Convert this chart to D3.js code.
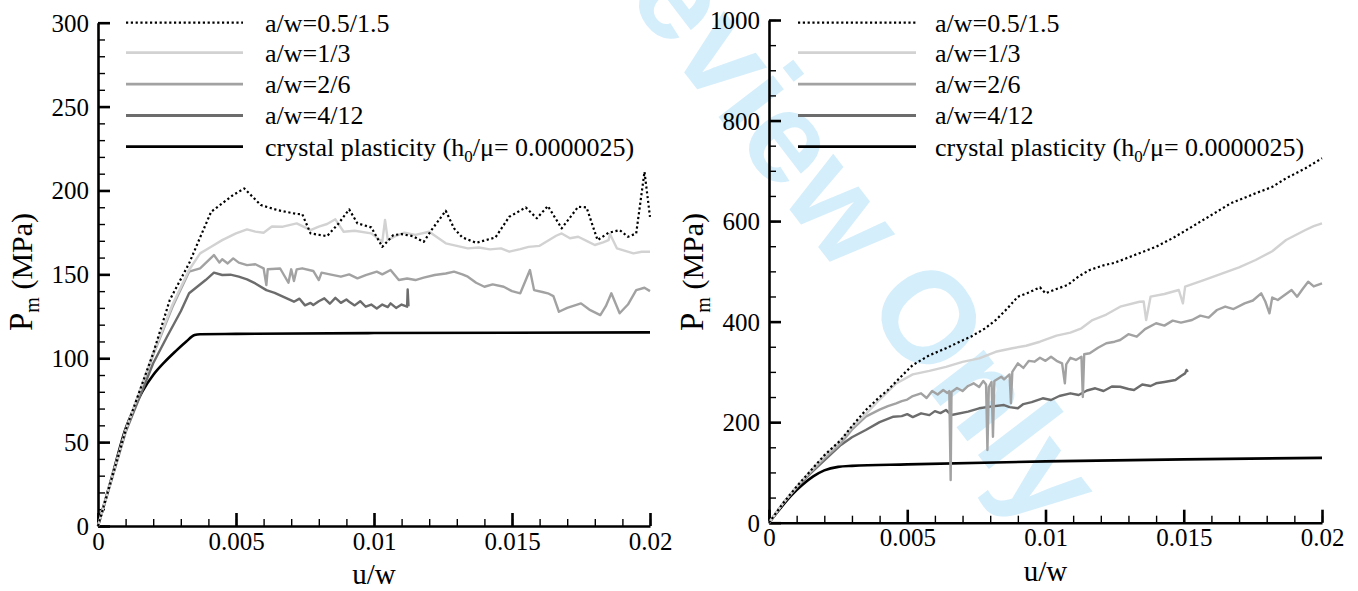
<!DOCTYPE html>
<html>
<head>
<meta charset="utf-8">
<script src="https://cdn.jsdelivr.net/npm/d3@7"></script>
<style>
  html, body { margin: 0; padding: 0; background: #fff; }
  svg { display: block; }
  svg text { font-family: 'Liberation Serif', 'Times New Roman', Times, serif; }
  svg text.wm { font-family: 'Liberation Sans', Arial, sans-serif; font-weight: bold; }
</style>
</head>
<body>
<svg id="chart" width="1358" height="591"></svg>
<script>
// ---------------- DATA ----------------
const xTickValues = [0, 0.005, 0.01, 0.015, 0.02];
const xTickLabels = ["0", "0.005", "0.01", "0.015", "0.02"];
const leftYTicks = [0, 50, 100, 150, 200, 250, 300];
const rightYTicks = [0, 200, 400, 600, 800, 1000];
const seriesNames = ["a/w=0.5/1.5", "a/w=1/3", "a/w=2/6", "a/w=4/12", "crystal plasticity"];
const xTitle = "u/w";

// left panel  [u/w, Pm]
const L_a05 = [[0,0],[0.001,57],[0.002,103],[0.0026,134.7],[0.0033,156.5],[0.0037,172],[0.0041,187.3],[0.0045,192.3],[0.0049,197.3],[0.0053,201.2],[0.0059,191.3],[0.0065,188.3],[0.0072,186],[0.0074,185.9],[0.0077,174.4],[0.0083,172.8],[0.0087,180],[0.0091,188.7],[0.0094,180.4],[0.0099,178],[0.0103,166.4],[0.0107,173.4],[0.011,174],[0.0114,172.8],[0.0118,169.4],[0.0121,176.8],[0.0126,187.9],[0.0129,177.4],[0.0132,172],[0.0137,168.8],[0.0144,172],[0.0149,184.3],[0.0155,189.9],[0.0159,183.4],[0.0163,190.7],[0.0168,177.4],[0.0174,190.3],[0.0177,189.9],[0.0181,170.4],[0.0185,174.8],[0.0189,176.4],[0.0192,172.4],[0.0195,174.4],[0.0198,211.1],[0.02,184.3]];
const L_a1 = [[0,0],[0.001,57],[0.002,103],[0.0027,132],[0.0033,152.6],[0.0037,162.5],[0.0041,166.4],[0.0045,170.4],[0.005,174.4],[0.0054,176.8],[0.0057,175.5],[0.006,174.8],[0.0063,178.5],[0.0067,178.4],[0.0072,180.4],[0.0075,178],[0.0077,176.4],[0.008,178.5],[0.0083,180],[0.0086,182.8],[0.0089,175.4],[0.0093,176],[0.0099,174.4],[0.0103,169.4],[0.0104,182.4],[0.0105,170.4],[0.0108,173],[0.0111,174.8],[0.0115,173.5],[0.012,175.4],[0.0123,172],[0.0126,168.5],[0.013,167],[0.0134,165.5],[0.0138,166],[0.0142,164.9],[0.0146,165.5],[0.0149,163.5],[0.0153,165],[0.0156,166.4],[0.016,167],[0.0163,170],[0.0166,173],[0.0168,174.4],[0.0171,171.5],[0.0174,172.4],[0.0177,170],[0.018,167.5],[0.0183,169],[0.0185,170.4],[0.01855,174],[0.0188,165.5],[0.0191,164],[0.0194,162.5],[0.0197,163.5],[0.02,163.5]];
const L_a2 = [[0,0],[0.001,57],[0.002,102],[0.0027,130.7],[0.0033,151.6],[0.0037,153.6],[0.0042,161.5],[0.0044,157],[0.0045,159],[0.0047,156.5],[0.0049,159.5],[0.0051,157],[0.0054,155.5],[0.0057,156],[0.006,153.6],[0.0061,143.6],[0.00615,153],[0.0066,153.5],[0.0069,145],[0.007,153],[0.0071,146],[0.0072,153],[0.0074,153.6],[0.0078,152],[0.008,146.6],[0.0081,151],[0.0084,150],[0.0088,148.6],[0.0091,150],[0.0094,147.6],[0.0097,149.5],[0.0101,151.6],[0.0103,150],[0.0106,152.6],[0.0109,146.6],[0.0112,147.5],[0.0115,146.6],[0.0118,148],[0.0122,149.6],[0.0126,150.5],[0.0129,151.6],[0.0132,150],[0.0134,148.6],[0.0137,145],[0.014,142.6],[0.0143,144],[0.0147,142.6],[0.015,140],[0.0153,138.7],[0.01565,152.6],[0.0158,140.6],[0.0161,139.5],[0.0163,138.7],[0.0165,137],[0.0167,127.7],[0.017,130],[0.0175,132.7],[0.0178,129],[0.0182,125.7],[0.0184,131],[0.0186,138.7],[0.0189,126.8],[0.0192,132],[0.0195,140.6],[0.0198,142],[0.02,140]];
const L_a4 = [[0,0],[0.001,56],[0.002,97],[0.0025,112.8],[0.003,128],[0.0033,138.7],[0.0039,146.6],[0.0042,151],[0.0045,149.6],[0.0048,149.8],[0.0051,148.6],[0.0054,147],[0.0057,144.6],[0.0061,140.6],[0.0064,139],[0.0067,136.7],[0.0071,133.7],[0.0073,135.5],[0.0075,131.5],[0.0077,133],[0.0078,131.7],[0.008,134],[0.0082,135.7],[0.0084,132.5],[0.0086,136],[0.0088,133],[0.009,135],[0.0091,133.7],[0.0093,131.5],[0.0095,134],[0.0097,130.7],[0.0099,132],[0.0101,129.7],[0.0103,132],[0.0105,130.5],[0.0106,132.7],[0.0108,130],[0.011,132],[0.0112,130.7],[0.01122,141],[0.01125,131]];
const L_cp = [[0,0],[0.0005,29],[0.001,58],[0.0013,70],[0.0016,80],[0.002,90],[0.0024,97.5],[0.0028,104],[0.0032,110],[0.0035,113.8],[0.0037,114.3],[0.005,114.5],[0.01,115],[0.02,115.4]];

// right panel  [u/w, Pm]
const R_a05 = [[0,0],[0.0005,38],[0.001,72],[0.0015,103],[0.002,134],[0.0026,164.5],[0.003,192],[0.0035,224],[0.004,250],[0.0043,264],[0.0048,292],[0.0052,313.7],[0.0058,333],[0.0064,347],[0.0069,360],[0.0073,370],[0.0078,386],[0.0082,403],[0.0086,425],[0.009,449.6],[0.0094,458],[0.0098,468.3],[0.01,456.3],[0.0104,465],[0.0108,472.8],[0.0112,490],[0.0116,502.7],[0.0121,512],[0.0125,517],[0.0132,532],[0.014,549],[0.0146,566],[0.0153,588.8],[0.016,612],[0.0167,635.4],[0.0176,655.3],[0.0182,668],[0.0187,685.1],[0.0194,705],[0.02,725]];
const R_a1 = [[0,0],[0.0005,38],[0.001,72],[0.0015,103],[0.002,132],[0.0025,158],[0.003,190],[0.0035,216],[0.004,245],[0.0046,277],[0.0052,295],[0.0058,302],[0.0064,310],[0.007,320],[0.0076,327],[0.0082,340],[0.0088,347],[0.0093,352],[0.0098,360],[0.0104,372],[0.0109,378],[0.0113,386.7],[0.0117,403.2],[0.0122,414],[0.0127,429.7],[0.0134,439.6],[0.01355,440],[0.01364,403.2],[0.0138,449.6],[0.0143,455],[0.01482,462.9],[0.01497,436.4],[0.01505,469.5],[0.0157,482],[0.0164,496],[0.017,508],[0.0176,522.6],[0.0182,540],[0.0187,562.4],[0.0194,582.3],[0.0197,590],[0.02,595.6]];
const R_a2 = [[0,0],[0.0005,38],[0.001,71],[0.0015,100],[0.002,128],[0.0026,158],[0.003,185],[0.0035,211],[0.004,225],[0.0043,232],[0.0046,237.5],[0.0048,242],[0.005,245],[0.0052,252],[0.0055,257.4],[0.0057,248],[0.0059,262],[0.0061,255],[0.0063,264],[0.00645,258],[0.00652,262],[0.00657,85],[0.0066,260],[0.0068,268],[0.007,262],[0.0072,272],[0.0074,277.3],[0.0076,270],[0.00775,282],[0.00785,275],[0.0079,144.6],[0.00795,270],[0.00805,280],[0.0081,171],[0.00815,282],[0.0084,290.4],[0.0085,285],[0.0087,295],[0.00875,237.5],[0.0088,300],[0.009,317],[0.0092,308],[0.0094,322],[0.0096,320.3],[0.0098,328],[0.01,322],[0.0102,330.2],[0.0104,322],[0.0106,317],[0.0107,277.3],[0.01075,315],[0.0109,328],[0.0111,323.7],[0.0113,330],[0.01135,250],[0.0114,335],[0.0116,337],[0.0119,348],[0.0122,356.9],[0.0125,360],[0.0127,363.4],[0.013,375],[0.0133,370],[0.0136,385],[0.014,396.7],[0.0143,392],[0.0146,402],[0.0149,398],[0.0153,403.2],[0.0156,412],[0.0159,408],[0.0162,423.1],[0.0165,430],[0.0168,425],[0.0172,436.4],[0.0175,442],[0.0178,456.3],[0.01795,440],[0.0181,416.5],[0.0182,448],[0.0184,443],[0.0187,455],[0.0189,462.9],[0.0191,449.6],[0.0193,465],[0.0195,479.4],[0.0197,470],[0.02,476]];
const R_a4 = [[0,0],[0.0005,38],[0.001,70],[0.0015,98],[0.002,124],[0.0026,154.6],[0.003,170],[0.0035,184.4],[0.004,200],[0.0045,210.9],[0.0048,212],[0.005,216],[0.0052,210],[0.0055,217.6],[0.0058,214],[0.006,222],[0.0062,218],[0.0064,224.2],[0.0066,214.2],[0.0072,221],[0.0076,227.6],[0.008,231],[0.0085,234.1],[0.0087,230],[0.009,227.6],[0.0092,236],[0.0095,240],[0.0099,247.5],[0.0102,244],[0.0105,252],[0.0109,257.4],[0.0112,254],[0.0115,263],[0.0118,267.4],[0.0121,262],[0.0124,271],[0.0127,270.5],[0.013,266],[0.0132,264],[0.0135,275],[0.0138,272],[0.014,277.3],[0.0143,280],[0.0147,283.9],[0.0149,292],[0.01505,297],[0.0151,303.8],[0.01515,300]];
const R_cp = [[0,0],[0.0004,28],[0.0008,54],[0.0012,75],[0.0016,92],[0.002,104],[0.0025,111],[0.003,113],[0.005,116],[0.01,122],[0.015,126],[0.02,129]];

// ---------------- DRAW ----------------
const svg = d3.select("#chart");
svg.append("rect").attr("width", 1358).attr("height", 591).attr("fill", "#fff");

// watermark (behind everything)
svg.append("text").attr("class", "wm")
  .attr("transform", "translate(930,317) rotate(52.5)")
  .attr("x", -535).attr("y", 46)
  .attr("font-size", 130)
  .attr("fill", "rgb(212,238,251)")
  .text("Review Only");

const styles = [
  { color: "#000", width: 2.2, dash: "2.2,2.6" },
  { color: "#d2d2d2", width: 2.4, dash: null },
  { color: "#a2a2a2", width: 2.4, dash: null },
  { color: "#6c6c6c", width: 2.4, dash: null },
  { color: "#000", width: 2.6, dash: null }
];

const panels = [
  { data: [L_a05, L_a1, L_a2, L_a4, L_cp], yMax: 300, yTicks: leftYTicks, yMinorStep: 10,
    xr: [98, 650], yr: [526, 22.7], titleX: 32, legLine: [126, 243], legText: 265 },
  { data: [R_a05, R_a1, R_a2, R_a4, R_cp], yMax: 1000, yTicks: rightYTicks, yMinorStep: 50,
    xr: [769, 1322], yr: [522.7, 20], titleX: 703, legLine: [798, 916], legText: 935 }
];
const legendRows = [22.7, 52.7, 84.2, 115.5, 146.7];
const serif = "'Liberation Serif', 'Times New Roman', Times, serif";

panels.forEach(p => {
  const x = d3.scaleLinear().domain([0, 0.02]).range(p.xr);
  const y = d3.scaleLinear().domain([0, p.yMax]).range(p.yr);
  const g = svg.append("g");

  // minor ticks
  const xMinor = d3.range(0, 0.02 + 1e-9, 0.001);
  const yMinor = d3.range(0, p.yMax + 1e-9, p.yMinorStep);
  g.append("g").attr("transform", `translate(0,${p.yr[0]})`)
    .call(d3.axisBottom(x).tickValues(xMinor).tickSize(-7).tickSizeOuter(0).tickFormat(""))
    .call(s => s.select(".domain").remove())
    .call(s => s.selectAll("line").attr("stroke", "#000").attr("stroke-width", 1.4));
  g.append("g").attr("transform", `translate(${p.xr[0]},0)`)
    .call(d3.axisLeft(y).tickValues(yMinor).tickSize(-7).tickSizeOuter(0).tickFormat(""))
    .call(s => s.select(".domain").remove())
    .call(s => s.selectAll("line").attr("stroke", "#000").attr("stroke-width", 1.4));

  // major axes
  const xAxis = g.append("g").attr("transform", `translate(0,${p.yr[0]})`)
    .call(d3.axisBottom(x).tickValues(xTickValues).tickSize(-13).tickSizeOuter(0).tickPadding(6)
      .tickFormat((d, i) => xTickLabels[i]));
  const yAxis = g.append("g").attr("transform", `translate(${p.xr[0]},0)`)
    .call(d3.axisLeft(y).tickValues(p.yTicks).tickSize(-12).tickSizeOuter(0).tickPadding(9)
      .tickFormat(d3.format("d")));
  [xAxis, yAxis].forEach(a => {
    a.attr("font-family", null).attr("font-size", null);
    a.select(".domain").attr("stroke", "#000").attr("stroke-width", 2.6);
    a.selectAll(".tick line").attr("stroke", "#000").attr("stroke-width", 2.6);
    a.selectAll(".tick text").style("font-family", serif).style("font-size", "25px").attr("fill", "#000");
  });
  yAxis.selectAll(".tick text").attr("dy", "0.34em");

  // series
  const line = d3.line().x(d => x(d[0])).y(d => y(d[1]));
  const smooth = d3.line().curve(d3.curveMonotoneX).x(d => x(d[0])).y(d => y(d[1]));
  const order = [4, 3, 2, 1, 0];
  order.forEach(i => {
    const st = styles[i];
    g.append("path").datum(p.data[i])
      .attr("d", i === 4 ? smooth : line)
      .attr("fill", "none")
      .attr("stroke", st.color)
      .attr("stroke-width", st.width)
      .attr("stroke-linejoin", "round")
      .attr("stroke-dasharray", st.dash);
  });

  // axis titles
  g.append("text")
    .attr("x", (p.xr[0] + p.xr[1]) / 2).attr("y", p.yr[0] + 58)
    .attr("text-anchor", "middle")
    .style("font-family", serif).style("font-size", "29px").attr("fill", "#000")
    .text(xTitle);
  const yt = g.append("text")
    .attr("transform", `translate(${p.titleX},272) rotate(-90)`)
    .attr("text-anchor", "middle")
    .style("font-family", serif).style("font-size", "30px").attr("fill", "#000");
  yt.append("tspan").style("font-size", "33px").text("P");
  yt.append("tspan").style("font-size", "20px").attr("dy", 7).text("m");
  yt.append("tspan").attr("dy", -7).text(" (MPa)");

  // legend
  const leg = g.append("g");
  const rows = leg.selectAll("g").data(seriesNames).join("g")
    .attr("transform", (d, i) => `translate(0,${legendRows[i]})`);
  rows.append("line")
    .attr("x1", p.legLine[0]).attr("x2", p.legLine[1])
    .attr("stroke", (d, i) => styles[i].color)
    .attr("stroke-width", (d, i) => i === 0 ? 2.2 : 2.8)
    .attr("stroke-dasharray", (d, i) => styles[i].dash);
  const lt = rows.append("text")
    .attr("x", p.legText).attr("dy", "0.34em")
    .style("font-family", serif).style("font-size", "26px").attr("fill", "#000");
  lt.each(function(d, i) {
    const t = d3.select(this);
    if (i < 4) { t.text(d); return; }
    t.append("tspan").text(d + " (h");
    t.append("tspan").style("font-size", "17px").attr("dy", 6).text("0");
    t.append("tspan").attr("dy", -6).text("/\u03bc= 0.0000025)");
  });
});
</script>
</body>
</html>
